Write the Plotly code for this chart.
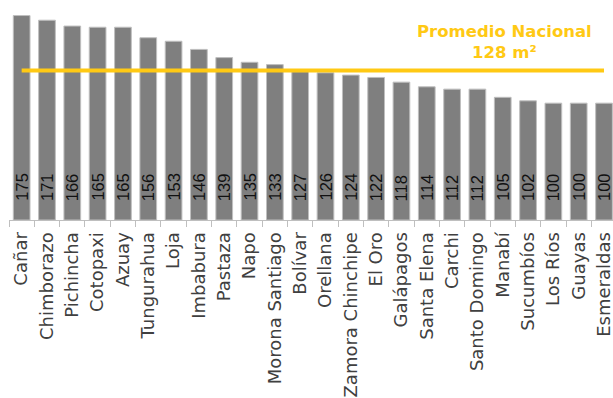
import plotly.graph_objects as go

provinces = ["Cañar", "Chimborazo", "Pichincha", "Cotopaxi", "Azuay", "Tungurahua",
             "Loja", "Imbabura", "Pastaza", "Napo", "Morona Santiago", "Bolívar",
             "Orellana", "Zamora Chinchipe", "El Oro", "Galápagos", "Santa Elena",
             "Carchi", "Santo Domingo", "Manabí", "Sucumbíos", "Los Ríos", "Guayas",
             "Esmeraldas"]
values = [175, 171, 166, 165, 165, 156, 153, 146, 139, 135, 133, 127,
          126, 124, 122, 118, 114, 112, 112, 105, 102, 100, 100, 100]
national_avg = 128
avg_label = "Promedio Nacional<br>128 m²"

YELLOW = "#FFC914"

fig = go.Figure()
fig.add_trace(go.Bar(
    x=provinces, y=values, width=0.66,
    marker=dict(color="#7F7F7F", line=dict(color="#BFBFBF", width=1)),
    hoverinfo="skip",
))
fig.add_trace(go.Scatter(
    x=provinces, y=[national_avg] * len(provinces), mode="lines",
    line=dict(color=YELLOW, width=4), hoverinfo="skip",
))

for p, v in zip(provinces, values):
    fig.add_annotation(x=p, y=0, xref="x", yref="y", text=str(v), showarrow=False,
                       textangle=-90, yanchor="bottom", xanchor="center", yshift=17,
                       font=dict(family="Liberation Sans", size=16.5, color="#111111"))

fig.add_annotation(x=0.821, xref="paper", y=152.7, yref="y", text=avg_label,
                   showarrow=False, xanchor="center", yanchor="middle",
                   font=dict(family="DejaVu Sans", size=16.5, color=YELLOW, weight="bold"),
                   align="center")

fig.update_layout(
    width=613, height=398,
    margin=dict(l=9, r=0, t=0, b=178),
    plot_bgcolor="white", paper_bgcolor="white",
    showlegend=False, bargap=0.34,
    xaxis=dict(range=[-0.5, 23.355], tickson="boundaries", ticks="outside", ticklen=6,
               tickcolor="#BFBFBF", showline=True, linecolor="#BFBFBF", linewidth=1,
               tickangle=-90, showgrid=False, ticklabelstandoff=4,
               tickfont=dict(family="DejaVu Sans", size=18, color="#404040")),
    yaxis=dict(range=[0, 188.3], visible=False, showgrid=False),
)

fig.write_html("out.html")
